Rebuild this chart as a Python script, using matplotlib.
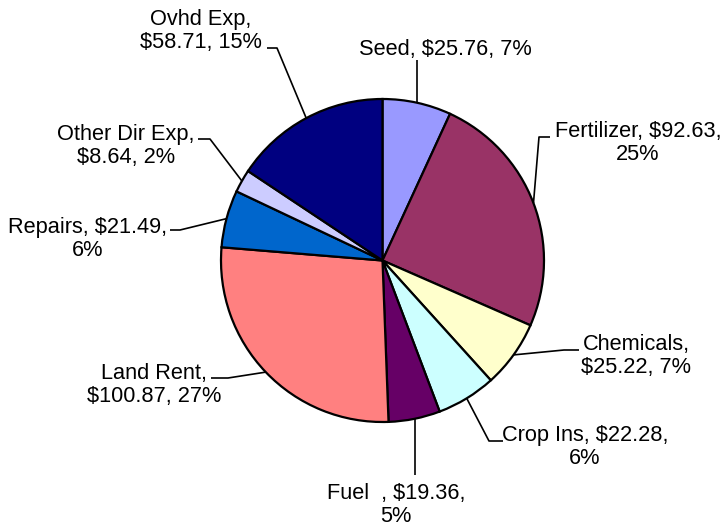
import matplotlib.pyplot as plt
import numpy as np

plt.rcParams['font.family'] = ['Liberation Sans', 'DejaVu Sans']

# data
names = ['Seed', 'Fertilizer', 'Chemicals', 'Crop Ins', 'Fuel  ', 'Land Rent',
         'Repairs', 'Other Dir Exp', 'Ovhd Exp']
costs = [25.76, 92.63, 25.22, 22.28, 19.36, 100.87, 21.49, 8.64, 58.71]
pcts = [7, 25, 7, 6, 5, 27, 6, 2, 15]
colors = ['#9999FF', '#993366', '#FFFFCC', '#CCFFFF', '#660066', '#FF8080',
          '#0066CC', '#CCCCFF', '#000080']

# label layout (pixel coords, y from top): text centre, leader elbow, leader end
label_text = [
    'Seed, ${:.2f}, {}%',
    'Fertilizer, ${:.2f},\n{}%',
    'Chemicals,\n${:.2f}, {}%',
    'Crop Ins, ${:.2f},\n{}%',
    '{}, ${:.2f},\n{}%',
    'Land Rent,\n${:.2f}, {}%',
    'Repairs, ${:.2f},\n{}%',
    'Other Dir Exp,\n${:.2f}, {}%',
    'Ovhd Exp,\n${:.2f}, {}%',
]
text_pos = [(445, 49), (638, 143), (636, 356), (585, 447), (396, 505),
            (154, 385), (88, 239), (126, 146), (201, 31)]
elbows = [None, (539, 137), (564, 350), (489, 441), None,
          (228, 378), (180, 230), (210, 139), (277, 48)]
ends = [(None, 60), (550, 137), (579, 350), (503, 441), (None, 475),
        (211, 378), (170, 230), (198, 139), (267, 48)]

W, H = 722, 527
cx, cy, R = 382.5, 260.5, 161.5

fig = plt.figure(figsize=(W / 100, H / 100), dpi=100)
ax = fig.add_axes([0, 0, 1, 1])


def fy(y):
    return H - y


wedges, _ = ax.pie(costs, colors=colors, startangle=90, counterclock=False,
                   center=(cx, fy(cy)), radius=R, frame=True,
                   wedgeprops={'edgecolor': 'black', 'linewidth': 1.6})
ax.set_xlim(0, W)
ax.set_ylim(0, H)
ax.set_aspect('equal')
ax.axis('off')

for i, w in enumerate(wedges):
    mid = np.deg2rad((w.theta1 + w.theta2) / 2)
    ex, ey = cx + R * np.cos(mid), fy(cy) + R * np.sin(mid)
    xs, ys = [ex], [ey]
    if elbows[i] is not None:
        xs.append(elbows[i][0])
        ys.append(fy(elbows[i][1]))
    endx = ends[i][0] if ends[i][0] is not None else ex
    xs.append(endx)
    ys.append(fy(ends[i][1]))
    ax.plot(xs, ys, color='black', lw=1.2, solid_capstyle='butt')

    if i == 4:
        txt = label_text[i].format(names[i], costs[i], pcts[i])
    else:
        txt = label_text[i].format(costs[i], pcts[i])
    ax.text(text_pos[i][0], fy(text_pos[i][1]), txt, ha='center', va='center',
            multialignment='center', fontsize=15.7, linespacing=1.17)

fig.savefig('out.png', dpi=100)
